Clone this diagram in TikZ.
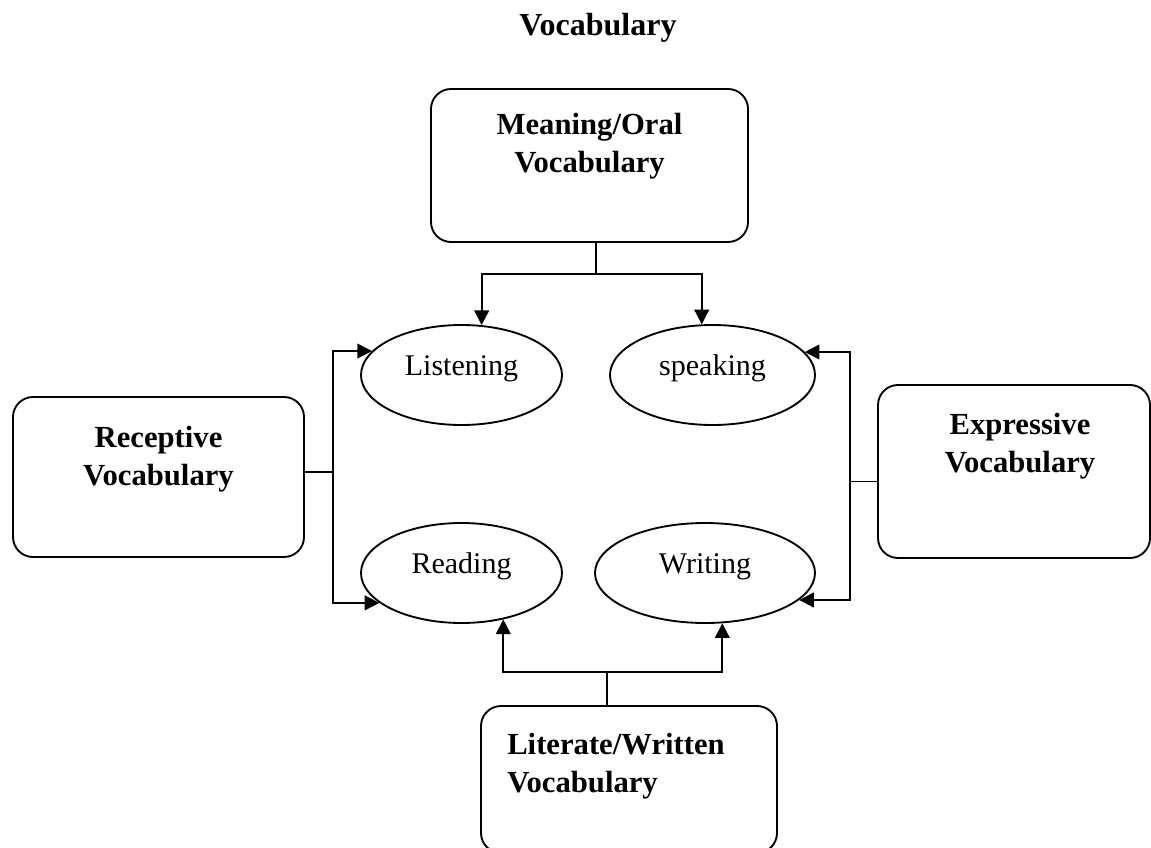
\documentclass[tikz,border=0pt]{standalone}
\usepackage{fontspec}
\setmainfont{Liberation Serif}
\usepackage{tikz}
\usetikzlibrary{arrows.meta,positioning,calc,shapes.geometric}

\begin{document}
\begin{tikzpicture}[
    x=0.75pt, y=-0.75pt,
    vbox/.style    = {rectangle, rounded corners=15pt, draw=black,
                      line width=1.4pt, inner sep=0pt},
    boxtext/.style = {font=\fontsize{23}{28.5}\selectfont\bfseries,
                      align=center, inner sep=0pt},
    skill/.style   = {ellipse, draw=black, line width=1.4pt, inner sep=0pt,
                      minimum height=75pt,
                      font=\fontsize{22.5}{27}\selectfont,
                      text height=14pt, text depth=14pt},
    link/.style    = {draw=black, line width=1.4pt},
    arr/.style     = {link, -{Triangle[length=11pt,width=11pt]}},
]
\useasboundingbox (0,0) rectangle (1151,848);

% ─── Title ───────────────────────────────────────────────────────────────
\node[boxtext, font=\fontsize{24}{29}\selectfont\bfseries] (title)
    at (598,28) {Vocabulary};

% ─── Vocabulary boxes ────────────────────────────────────────────────────
\node[vbox, minimum width=237.75pt, minimum height=114.75pt] (oral)
    at (589.5,165.5) {};
\node[boxtext] (oral-t) at (589.5,146) {Meaning/Oral\\Vocabulary};

\node[vbox, minimum width=218.25pt, minimum height=120pt] (recep)
    at (158.5,477) {};
\node[boxtext] (recep-t) at (158.5,459) {Receptive\\Vocabulary};

\node[vbox, minimum width=204pt, minimum height=129.75pt] (expr)
    at (1014,471.5) {};
\node[boxtext] (expr-t) at (1020,446) {Expressive\\Vocabulary};

\node[vbox, minimum width=222pt, minimum height=110.25pt] (liter)
    at (629,779.5) {};
\node[boxtext, anchor=west, align=left] (liter-t)
    at (507,766) {Literate/Written\\Vocabulary};

% ─── Skills ──────────────────────────────────────────────────────────────
\node[skill, minimum width=150.75pt] (listen) at (461.5,375) {Listening};
\node[skill, minimum width=153.75pt] (speak)  at (712.5,375) {speaking};
\node[skill, minimum width=150.75pt] (read)   at (461.5,573) {Reading};
\node[skill, minimum width=165pt]    (write)  at (705,573)   {Writing};

% ─── Connectors ──────────────────────────────────────────────────────────
\coordinate (tjunc) at ($(oral.south)+(6.5,31)$);
\draw[link] (oral.south -| tjunc) -- (tjunc);
\draw[arr] (tjunc) -| (listen.68);
\draw[arr] (tjunc) -| (speak.102);

\coordinate (ljunc) at ($(recep.east)+(28,-5)$);
\draw[link] (recep.east |- ljunc) -- (ljunc);
\draw[arr] (ljunc) |- (listen.165);
\draw[arr] (ljunc) |- (read.200);

\coordinate (rjunc) at ($(expr.west)+(-27,10)$);
\draw[link] (expr.west |- rjunc) -- (rjunc);
\draw[arr] (rjunc) |- (speak.14);
\draw[arr] (rjunc) |- (write.-16);

\coordinate (bjunc) at ($(liter.north)+(-22,-33)$);
\draw[link] (liter.north -| bjunc) -- (bjunc);
\draw[arr] (bjunc) -| (read.-48);
\draw[arr] (bjunc) -| (write.-71);

\end{tikzpicture}
\end{document}
